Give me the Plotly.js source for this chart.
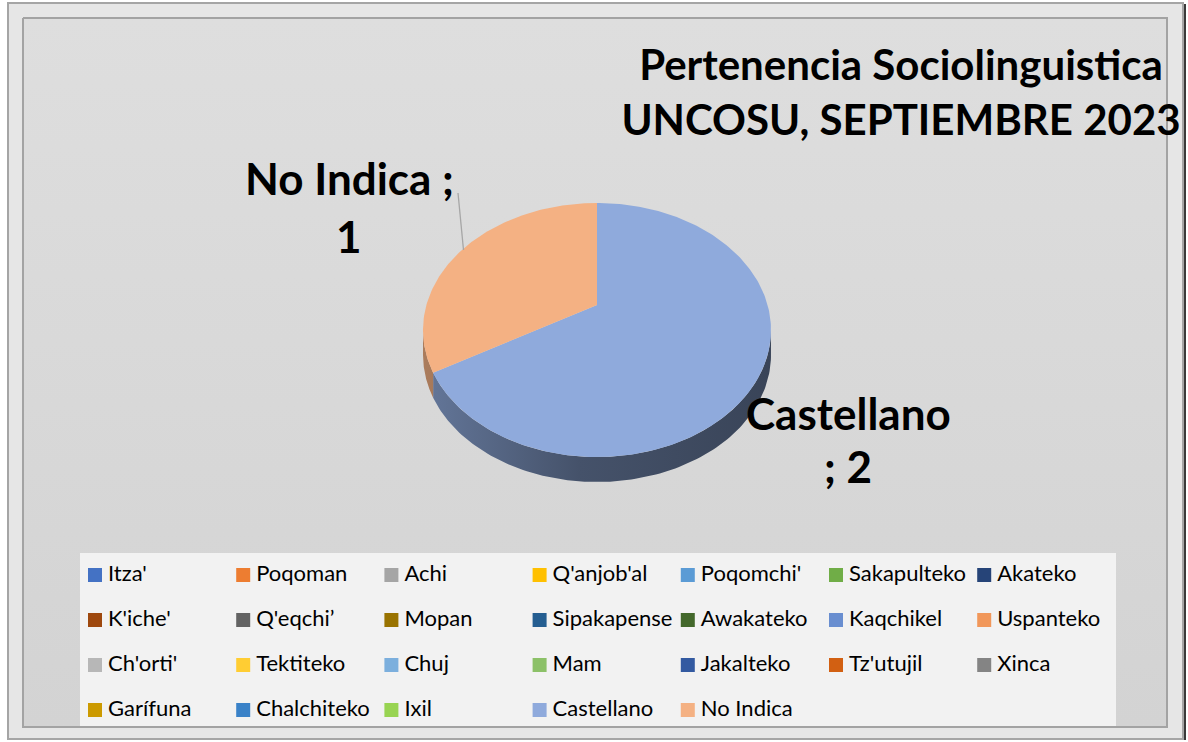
<!DOCTYPE html>
<html>
<head>
<meta charset="utf-8">
<script src="https://cdn.plot.ly/plotly-3.0.1.min.js"></script>
<style>html,body{margin:0;padding:0;background:#fff;}#chart{width:1188px;height:742px;}</style>
</head>
<body>
<div id="chart"></div>
<script>
// ---------------- DATA ----------------
const categories = ["Itza'", "Poqoman", "Achi", "Q'anjob'al", "Poqomchi'", "Sakapulteko", "Akateko",
  "K'iche'", "Q'eqchi’", "Mopan", "Sipakapense", "Awakateko", "Kaqchikel", "Uspanteko",
  "Ch'orti'", "Tektiteko", "Chuj", "Mam", "Jakalteko", "Tz'utujil", "Xinca",
  "Garífuna", "Chalchiteko", "Ixil", "Castellano", "No Indica"];
const values = [0, 0, 0, 0, 0, 0, 0,
  0, 0, 0, 0, 0, 0, 0,
  0, 0, 0, 0, 0, 0, 0,
  0, 0, 0, 2, 1];
const colors = ["#4472C4", "#ED7D31", "#A5A5A5", "#FFC000", "#5B9BD5", "#70AD47", "#264478",
  "#9E480E", "#636363", "#997300", "#255E91", "#43682B", "#698ED0", "#F1975A",
  "#B7B7B7", "#FFCD33", "#7CAFDD", "#8CC168", "#335AA1", "#D26012", "#848484",
  "#CC9A00", "#3A82C8", "#98D452", "#8FAADC", "#F4B183"];
const titleLines = ["Pertenencia Sociolinguistica", "UNCOSU, SEPTIEMBRE 2023"];

// ---------------- LAYOUT CONSTANTS ----------------
const W = 1188, H = 742;
const FONT = "Lato";
const PIE = {cx: 597, cy: 330, rx: 174, ry: 127, persp: 0.197, depth: 25};
const LEG = {x0: 95, y0: 575, dx: 148.2, dy: 45, cols: 7, textGap: 13, box: [80, 553, 1116, 726]};

function shade(hex, f) {
  const n = parseInt(hex.slice(1), 16);
  const r = Math.round(((n >> 16) & 255) * f), g = Math.round(((n >> 8) & 255) * f), b = Math.round((n & 255) * f);
  return "rgb(" + r + "," + g + "," + b + ")";
}
// perspective projection of a pie angle (deg, clockwise from top) onto the tilted disc
function project(deg, r) {
  const t = deg * Math.PI / 180, u = r * Math.sin(t), v = r * Math.cos(t);
  const c = PIE.persp, d = Math.sqrt(1 - c * c);
  const X = d * u / (c * v + 1), Y = (v + c) / (c * v + 1);
  return [PIE.cx + PIE.rx * X, PIE.cy - PIE.ry * Y];
}
const silhouette = Math.acos(-PIE.persp) * 180 / Math.PI;
const visFrom = silhouette, visTo = 360 - silhouette;

const traces = [];
// background gradient of chart area
traces.push({
  type: "scatter", mode: "lines", x: [23, 1167, 1167, 23, 23], y: [18, 18, 727, 727, 18],
  fill: "toself", line: {color: "#a3a3a3", width: 2}, hoverinfo: "skip",
  fillgradient: {type: "vertical", colorscale: [[0, "#d3d3d3"], [1, "#dedede"]]}
});
// legend box
const bx = LEG.box;
traces.push({
  type: "scatter", mode: "lines", x: [bx[0], bx[2], bx[2], bx[0], bx[0]], y: [bx[1], bx[1], bx[3], bx[3], bx[1]],
  fill: "toself", fillcolor: "#f2f2f2", line: {color: "#f2f2f2", width: 0}, hoverinfo: "skip"
});

// pie slices
const total = values.reduce((a, b) => a + b, 0);
const slices = [];
let start = 0;
values.forEach((v, i) => {
  if (v <= 0) return;
  const a0 = start, a1 = start + 360 * v / total;
  slices.push({i, a0, a1});
  start = a1;
});
// sides
slices.forEach(s => {
  const f = Math.max(s.a0, visFrom), t = Math.min(s.a1, visTo);
  if (t <= f) return;
  const xs = [], ys = [];
  for (let k = 0; k <= 120; k++) { const p = project(f + (t - f) * k / 120, 1); xs.push(p[0]); ys.push(p[1]); }
  for (let k = 120; k >= 0; k--) { const p = project(f + (t - f) * k / 120, 1); xs.push(p[0]); ys.push(p[1] + PIE.depth); }
  xs.push(xs[0]); ys.push(ys[0]);
  const col = colors[s.i];
  traces.push({
    type: "scatter", mode: "lines", x: xs, y: ys, fill: "toself", line: {width: 0, color: "rgba(0,0,0,0)"},
    hoverinfo: "skip",
    fillgradient: {type: "horizontal", start: PIE.cx - PIE.rx, stop: PIE.cx + PIE.rx,
      colorscale: [[0, shade(col, 0.70)], [0.45, shade(col, 0.48)], [1, shade(col, 0.40)]]}
  });
});
// top faces
slices.forEach(s => {
  const c0 = project(0, 0);
  const xs = [c0[0]], ys = [c0[1]];
  const n = Math.max(8, Math.round(s.a1 - s.a0));
  for (let k = 0; k <= n; k++) { const p = project(s.a0 + (s.a1 - s.a0) * k / n, 1); xs.push(p[0]); ys.push(p[1]); }
  xs.push(c0[0]); ys.push(c0[1]);
  traces.push({
    type: "scatter", mode: "lines", x: xs, y: ys, fill: "toself", fillcolor: colors[s.i],
    line: {width: 0, color: colors[s.i]}, name: categories[s.i],
    text: categories[s.i] + ": " + values[s.i], hoverinfo: "text", hoveron: "fills"
  });
});

// legend (all categories): swatches + labels
const legX = categories.map((c, i) => LEG.x0 + (i % LEG.cols) * LEG.dx);
const legY = categories.map((c, i) => LEG.y0 + Math.floor(i / LEG.cols) * LEG.dy);
traces.push({
  type: "scatter", mode: "markers", x: legX, y: legY,
  marker: {symbol: "square", size: 14, color: colors, line: {width: 0}},
  text: categories, hoverinfo: "text"
});
traces.push({
  type: "scatter", mode: "text", x: legX.map(x => x + LEG.textGap), y: legY,
  text: categories, textposition: "middle right",
  textfont: {family: FONT, size: 22, color: "#000000"}, hoverinfo: "skip"
});

// data labels
const iNo = categories.indexOf("No Indica"), iCa = categories.indexOf("Castellano");
const labFont = {family: FONT, size: 44, color: "#000000", weight: "bold"};
const annotations = [
  {x: 349, y: 178, text: categories[iNo] + " ;"},
  {x: 349, y: 236, text: String(values[iNo])},
  {x: 848, y: 413, text: categories[iCa]},
  {x: 848, y: 466, text: "; " + values[iCa]}
].map(a => Object.assign({xref: "x", yref: "y", showarrow: false, xanchor: "center", yanchor: "middle", font: labFont}, a));

const layout = {
  width: W, height: H, margin: {l: 0, r: 0, t: 0, b: 0},
  paper_bgcolor: "#ffffff", plot_bgcolor: "rgba(0,0,0,0)", showlegend: false,
  title: {text: titleLines.join("<br>"), x: 901 / W, xanchor: "center", xref: "container",
    y: 1 - 80 / H, yanchor: "top", yref: "container",
    font: {family: FONT, size: 42, color: "#000000", weight: "bold"}},
  xaxis: {range: [0, W], visible: false, fixedrange: true},
  yaxis: {range: [H, 0], visible: false, fixedrange: true},
  shapes: [
    {type: "rect", layer: "below", xref: "x", yref: "y", x0: 8, y0: 3, x1: 1183, y1: 739,
      fillcolor: "#e6e6e6", line: {color: "#a5a5a5", width: 2}},
    {type: "line", layer: "below", xref: "x", yref: "y", x0: 1185, y0: 4, x1: 1185, y1: 740,
      line: {color: "#3a3a3a", width: 2}},
    {type: "line", layer: "above", xref: "x", yref: "y", x0: 458, y0: 193, x1: 463.5, y1: 250,
      line: {color: "#a6a6a6", width: 1.3}}
  ],
  annotations: annotations,
  hovermode: "closest"
};
Plotly.newPlot("chart", traces, layout, {displayModeBar: false, responsive: false});
</script>
</body>
</html>
